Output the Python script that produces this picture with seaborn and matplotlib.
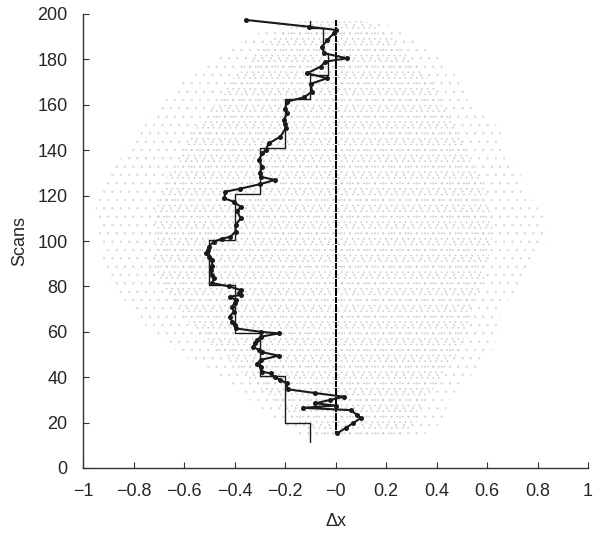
import numpy as np
import pandas as pd
import matplotlib
matplotlib.use("Agg")
import matplotlib.pyplot as plt
from matplotlib.ticker import FuncFormatter
import seaborn as sns

# Particle cloud envelope (outer extent and denser core) per scan
cloud_scans = [14, 20, 30, 40, 50, 60, 70, 80, 90, 100, 110, 120, 130, 140, 150, 160, 170, 180, 190, 198]
cloud_lo = [-0.14, -0.22, -0.34, -0.46, -0.61, -0.73, -0.81, -0.89, -0.93, -0.93, -0.95, -0.95, -0.89, -0.83, -0.77, -0.69, -0.61, -0.48, -0.34, -0.18]
cloud_hi = [0.34, 0.42, 0.45, 0.53, 0.61, 0.65, 0.65, 0.73, 0.77, 0.83, 0.83, 0.77, 0.73, 0.67, 0.65, 0.53, 0.50, 0.42, 0.30, 0.15]
core_lo = [-0.08, -0.15, -0.25, -0.35, -0.45, -0.55, -0.62, -0.68, -0.72, -0.72, -0.72, -0.70, -0.66, -0.60, -0.55, -0.48, -0.42, -0.34, -0.24, -0.12]
core_hi = [0.25, 0.32, 0.36, 0.42, 0.48, 0.52, 0.54, 0.58, 0.60, 0.62, 0.62, 0.60, 0.56, 0.52, 0.48, 0.42, 0.38, 0.30, 0.22, 0.10]

# True offset (zero) for each scan
truth_scans = np.arange(16, 198)
truth_dx = np.zeros(len(truth_scans))

# Piecewise-constant estimate: level held from each start scan
step_scans = [11.5, 20, 40.5, 59.5, 80.7, 100.4, 120.7, 141, 162.4, 173, 183, 194, 197]
step_dx = [-0.1, -0.2, -0.3, -0.4, -0.5, -0.4, -0.3, -0.2, -0.1, -0.03, -0.05, -0.1, -0.1]

# Per-scan filtered estimate
est_scans = [15.3, 17.6, 19.8, 22.0, 23.3, 25.5, 26.5, 27.5, 28.5, 30.0, 31.4, 33.0, 34.7,
             37.3, 38.8, 40.0, 41.7, 42.4, 44.6, 46.0, 47.6, 49.5, 51.0, 52.0, 53.4, 55.0,
             56.4, 57.8, 59.3, 60.0, 61.5, 63.0, 64.4, 66.7, 68.9, 71.1, 72.6, 74.0, 75.5,
             76.2, 77.0, 78.4, 80.0, 81.4, 83.6, 85.0, 87.2, 89.0, 91.6, 93.0, 94.6, 96.0,
             97.5, 99.7, 101.0, 101.9, 104.1, 107.0, 110.0, 113.0, 115.1, 117.3, 118.8,
             121.7, 123.0, 125.0, 126.9, 128.3, 130.0, 132.7, 135.7, 138.6, 140.0, 143.0,
             146.0, 149.6, 151.5, 153.3, 156.3, 158.0, 161.4, 163.3, 165.8, 169.2, 171.7,
             173.9, 176.8, 179.0, 180.5, 182.7, 185.6, 188.5, 191.5, 193.0, 194.4, 197.4]
est_dx = [0.007, 0.04, 0.07, 0.10, 0.086, 0.06, -0.13, 0.0, -0.08, -0.02, 0.033, -0.08, -0.19,
          -0.194, -0.218, -0.24, -0.257, -0.29, -0.297, -0.31, -0.297, -0.225, -0.29, -0.304, -0.326, -0.32,
          -0.31, -0.297, -0.225, -0.297, -0.396, -0.40, -0.409, -0.419, -0.403, -0.409, -0.40, -0.396, -0.416,
          -0.376, -0.383, -0.376, -0.42, -0.488, -0.482, -0.49, -0.495, -0.49, -0.488, -0.50, -0.511, -0.505,
          -0.502, -0.482, -0.45, -0.416, -0.396, -0.396, -0.376, -0.389, -0.376, -0.403, -0.44,
          -0.436, -0.38, -0.30, -0.24, -0.297, -0.30, -0.29, -0.304, -0.29, -0.277, -0.264,
          -0.218, -0.198, -0.20, -0.205, -0.191, -0.20, -0.191, -0.125, -0.092, -0.099, -0.033,
          -0.112, -0.059, -0.04, 0.046, -0.046, -0.053, -0.033, -0.007, 0.0, -0.106, -0.356]

x_ticks = np.round(np.arange(-1, 1.01, 0.2), 1)
y_ticks = np.arange(0, 201, 20)

sns.set_style("ticks")
plt.rcParams["font.family"] = ["Liberation Sans", "DejaVu Sans"]
plt.rcParams["hatch.linewidth"] = 0.4
plt.rcParams["xtick.direction"] = "in"
plt.rcParams["ytick.direction"] = "in"

fig = plt.figure(figsize=(6.1, 5.38), dpi=100)
ax = fig.add_axes([83 / 610, 1 - 468 / 538, (588 - 83) / 610, (468 - 14) / 538])

# particle cloud drawn as stippled envelopes
ax.fill_betweenx(cloud_scans, cloud_lo, cloud_hi, facecolor="none", edgecolor="#d6d6d6",
                 hatch="..", linewidth=0, zorder=1)
ax.fill_betweenx(cloud_scans, core_lo, core_hi, facecolor="none", edgecolor="#c8c8c8",
                 hatch="...", linewidth=0, zorder=1)

truth = pd.DataFrame({"dx": truth_dx, "scan": truth_scans})
sns.scatterplot(data=truth, x="dx", y="scan", marker="s", s=3.5, color="black",
                linewidth=0, ax=ax, zorder=3)

steps = pd.DataFrame({"dx": step_dx, "scan": step_scans})
sns.lineplot(data=steps, x="dx", y="scan", orient="y", sort=False, drawstyle="steps-pre",
             color="#1a1a1a", linewidth=1.0, ax=ax, zorder=4)

est = pd.DataFrame({"dx": est_dx, "scan": est_scans})
sns.lineplot(data=est, x="dx", y="scan", orient="y", sort=False, color="#1a1a1a",
             linewidth=1.5, marker="o", markersize=3.6, markeredgewidth=0, ax=ax, zorder=5)

ax.set_xlim(-1, 1)
ax.set_ylim(0, 200)
ax.set_xticks(x_ticks)
ax.set_yticks(y_ticks)
ax.xaxis.set_major_formatter(FuncFormatter(lambda v, p: f"{v:g}".replace("-", "\u2212")))
ax.tick_params(axis="both", labelsize=13, length=4, width=0.8, color="#333333")
ax.tick_params(axis="x", pad=11)
ax.tick_params(axis="y", pad=11)
ax.set_xlabel("\u0394x", fontsize=13, labelpad=9)
ax.set_ylabel("Scans", fontsize=13, labelpad=7)
sns.despine(ax=ax)
for s in ("left", "bottom"):
    ax.spines[s].set_color("#333333")
    ax.spines[s].set_linewidth(1.0)

fig.savefig("out.png", dpi=100)
